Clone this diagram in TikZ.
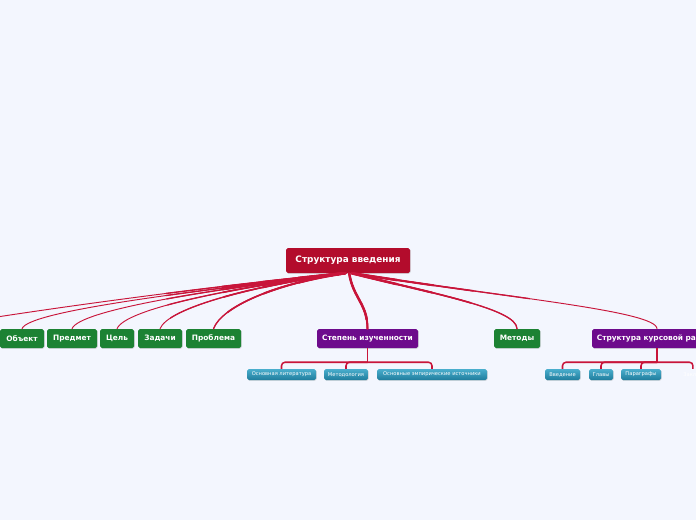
\documentclass[tikz,border=0pt]{standalone}
\usepackage{fontspec}
\setmainfont{DejaVu Sans}
\usetikzlibrary{shadows}

\definecolor{bgblue}{HTML}{F3F6FE}
\definecolor{rootred}{HTML}{B30C2C}
\definecolor{linkred}{HTML}{C8153A}
\definecolor{topicgreen}{HTML}{1C8233}
\definecolor{topicpurple}{HTML}{6D0B8C}
\definecolor{subtop}{HTML}{4AAECD}
\definecolor{subbot}{HTML}{1F7D9D}
\newcommand\pxu{0.03cm}

\begin{document}
\begin{tikzpicture}[
    x=\pxu, y=-\pxu,
    every node/.style={rounded corners=1.5pt, inner sep=0pt, text=white},
    boxshadow/.style={drop shadow={shadow xshift=0.5pt, shadow yshift=-0.6pt, opacity=0.25, fill=black!70}},
    rootbox/.style={boxshadow, fill=rootred, minimum width=124*\pxu, minimum height=25*\pxu,
        font=\bfseries\fontsize{7.6}{9}\selectfont},
    greenbox/.style={boxshadow, fill=topicgreen, minimum height=19*\pxu,
        font=\bfseries\fontsize{6.3}{8}\selectfont},
    purplebox/.style={boxshadow, fill=topicpurple, minimum height=19*\pxu,
        font=\bfseries\fontsize{6.3}{8}\selectfont},
    subbox/.style={boxshadow, top color=subtop, bottom color=subbot, minimum height=11*\pxu,
        font=\fontsize{4.4}{5}\selectfont},
    link/.style={draw=linkred, line cap=round},
    sublink/.style={draw=linkred, line width=1.3pt, rounded corners=3pt}
]
    \path[use as bounding box, fill=bgblue] (0,0) rectangle (696,520);
    \clip (0,0) rectangle (696,520);

    \node[rootbox] (root) at (348,260.5) {Структура введения};

    \node[greenbox, minimum width=44*\pxu] (object) at (22,338.5) {Объект};
    \node[greenbox, minimum width=50*\pxu] (subject) at (72,338.5) {Предмет};
    \node[greenbox, minimum width=34*\pxu] (goal) at (117,338.5) {Цель};
    \node[greenbox, minimum width=44*\pxu] (tasks) at (160,338.5) {Задачи};
    \node[greenbox, minimum width=55*\pxu] (problem) at (213.5,338.5) {Проблема};
    \node[purplebox, minimum width=101*\pxu] (degree) at (367.5,338.5) {Степень изученности};
    \node[greenbox, minimum width=46*\pxu] (methods) at (517,338.5) {Методы};
    \node[purplebox, minimum width=130*\pxu] (structure) at (657,338.5) {Структура курсовой работы};
    \coordinate (offleft) at (-110,335);

    \node[subbox, minimum width=69*\pxu] (literature) at (281.5,374.5) {Основная литература};
    \node[subbox, minimum width=44*\pxu] (methodology) at (346,374.5) {Методология};
    \node[subbox, minimum width=110*\pxu] (sources) at (432,374.5) {Основные эмпирические источники};
    \node[subbox, minimum width=35*\pxu] (intro) at (562.5,374.5) {Введение};
    \node[subbox, minimum width=24*\pxu] (chapters) at (601,374.5) {Главы};
    \node[subbox, minimum width=40*\pxu] (paragraphs) at (641,374.5) {Параграфы};
    \node[minimum width=40*\pxu, minimum height=11*\pxu, font=\fontsize{4.4}{5}\selectfont] (conclusion) at (700,374.5) {Заключение};

    % branches from the root get thinner away from it
    \foreach \w/\r in {0.8pt/40cm, 1.1pt/5.5cm, 1.4pt/3.8cm, 1.7pt/2.6cm, 2.1pt/1.5cm} {
        \begin{scope}
            \clip (root.south) circle (\r);
            \draw[link, line width=\w] ([xshift=-4pt]root.south) .. controls +(-200,20) and +(60,-12) .. (offleft);
            \draw[link, line width=\w] ([xshift=-4pt]root.south) .. controls +(-150,18) and +(6,-18) .. (object.north);
            \draw[link, line width=\w] ([xshift=-4pt]root.south) .. controls +(-130,16) and +(7,-19) .. (subject.north);
            \draw[link, line width=\w] ([xshift=-3pt]root.south) .. controls +(-110,14) and +(8,-20) .. (goal.north);
            \draw[link, line width=\w] ([xshift=-3pt]root.south) .. controls +(-90,12) and +(8,-21) .. (tasks.north);
            \draw[link, line width=\w] ([xshift=-2pt]root.south) .. controls +(-70,10) and +(8,-22) .. (problem.north);
            \draw[link, line width=\w] ([xshift=1pt]root.south) .. controls +(4,25) and +(0,-25) .. (degree.north);
            \draw[link, line width=\w] ([xshift=3pt]root.south) .. controls +(80,20) and +(0,-20) .. (methods.north);
            \draw[link, line width=\w] ([xshift=4pt]root.south) .. controls +(150,24) and +(0,-18) .. (structure.north);
        \end{scope}
    }

    \draw[sublink] (degree.south) -- ++(0,14) coordinate (degreejoin);
    \draw[sublink] (literature.north) |- (degreejoin) -| (sources.north);
    \draw[sublink] (methodology.north) |- (degreejoin);

    \draw[sublink] (structure.south) -- ++(0,14) coordinate (structurejoin);
    \draw[sublink] (intro.north) |- (structurejoin) -| ([xshift=-6pt]conclusion.north);
    \draw[sublink] (chapters.north) |- (structurejoin);
    \draw[sublink] (paragraphs.north) |- (structurejoin);
\end{tikzpicture}
\end{document}
